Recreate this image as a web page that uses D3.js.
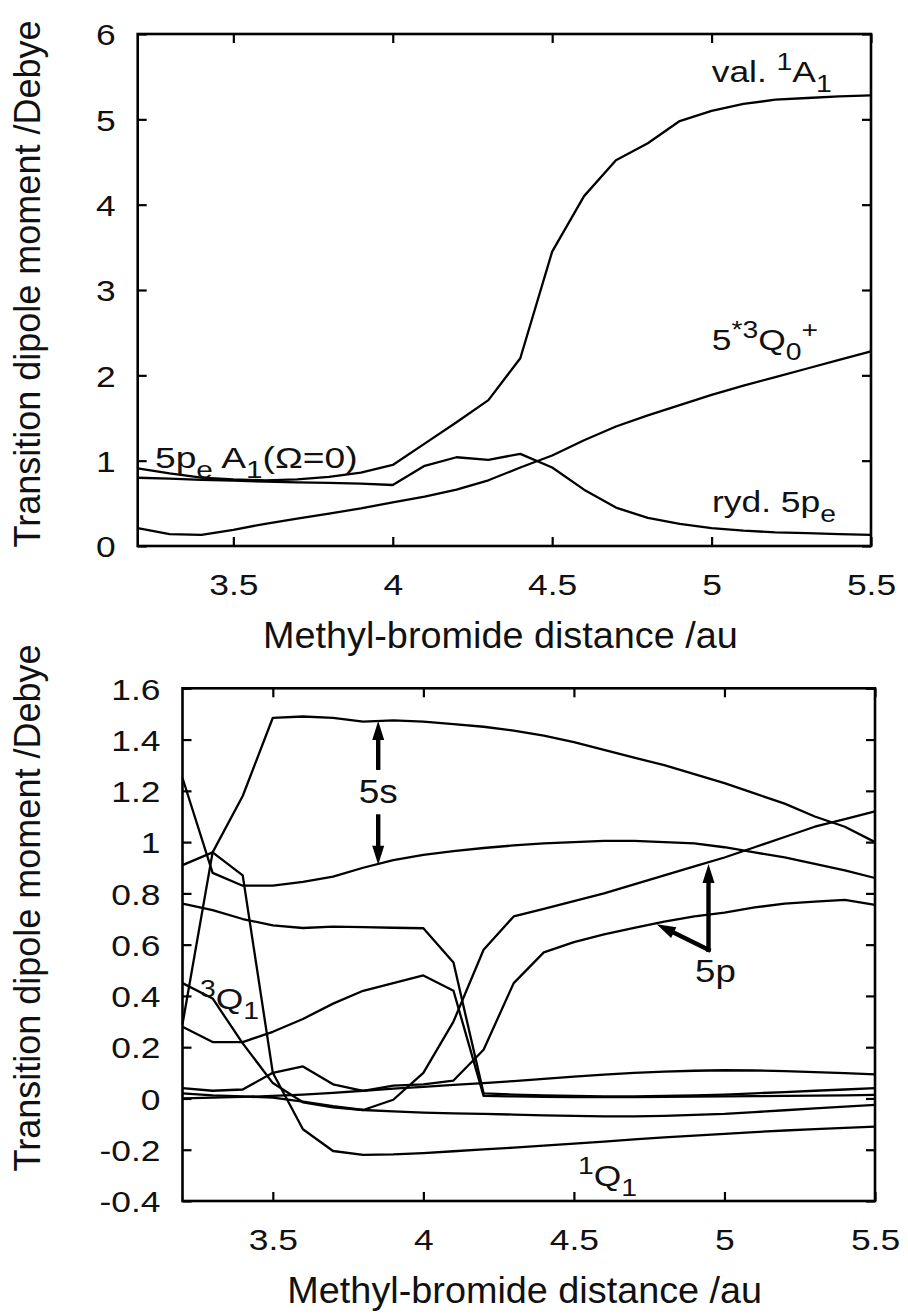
<!DOCTYPE html>
<html>
<head>
<meta charset="utf-8">
<script src="https://cdn.jsdelivr.net/npm/d3@7"></script>
<style>
  body { margin: 0; background: #fff; }
  svg text { font-family: "Liberation Sans", Arial, Helvetica, sans-serif; fill: #111; }
</style>
</head>
<body>
<svg id="fig" width="908" height="1316"></svg>
<script>
// Methyl-bromide distance grid (au)
const distance = [3.2,3.3,3.4,3.5,3.6,3.7,3.8,3.9,4.0,4.1,4.2,4.3,4.4,4.5,4.6,4.7,4.8,4.9,5.0,5.1,5.2,5.3,5.4,5.5];

// Upper panel: transition dipole moments (Debye)
const valA1  = [0.91,0.85,0.80,0.78,0.77,0.78,0.81,0.86,0.95,1.20,1.45,1.71,2.20,3.45,4.10,4.52,4.72,4.98,5.10,5.18,5.23,5.25,5.27,5.28];
const rydPe  = [0.80,0.79,0.775,0.765,0.755,0.745,0.74,0.73,0.715,0.94,1.04,1.01,1.08,0.92,0.66,0.45,0.33,0.26,0.21,0.18,0.16,0.15,0.14,0.13];
const q0Plus = [0.21,0.14,0.13,0.19,0.26,0.32,0.38,0.44,0.51,0.58,0.66,0.77,0.92,1.06,1.24,1.40,1.53,1.65,1.77,1.88,1.98,2.08,2.18,2.28];

// Lower panel: transition dipole moments (Debye)
const s5High   = [0.29,0.96,1.18,1.485,1.49,1.485,1.47,1.475,1.47,1.46,1.45,1.435,1.415,1.39,1.36,1.33,1.30,1.265,1.23,1.19,1.15,1.10,1.06,1.00];
const s5Low    = [1.25,0.88,0.83,0.83,0.845,0.865,0.90,0.93,0.95,0.965,0.977,0.987,0.995,1.0,1.005,1.005,1.0,0.995,0.98,0.96,0.94,0.915,0.89,0.86];
const q1Single = [0.91,0.96,0.87,0.10,-0.12,-0.205,-0.22,-0.218,-0.213,-0.206,-0.199,-0.192,-0.184,-0.176,-0.168,-0.16,-0.152,-0.145,-0.138,-0.131,-0.125,-0.12,-0.115,-0.11];
const plateau  = [0.76,0.735,0.70,0.675,0.665,0.67,0.668,0.666,0.664,0.53,0.02,0.015,0.012,0.01,0.008,0.008,0.01,0.012,0.015,0.02,0.025,0.03,0.035,0.04];
const hump     = [0.28,0.22,0.22,0.26,0.31,0.37,0.42,0.45,0.48,0.42,0.01,0.008,0.006,0.005,0.005,0.005,0.006,0.007,0.008,0.009,0.01,0.011,0.012,0.014];
const q1Triplet= [0.45,0.39,0.215,0.06,-0.015,-0.035,-0.045,-0.005,0.10,0.30,0.58,0.71,0.74,0.77,0.80,0.835,0.87,0.905,0.94,0.98,1.02,1.06,1.09,1.12];
const p5Low    = [0.04,0.03,0.035,0.10,0.125,0.055,0.03,0.05,0.055,0.07,0.19,0.45,0.57,0.61,0.64,0.665,0.69,0.71,0.725,0.745,0.76,0.768,0.775,0.755];
const nearZeroA= [0.02,0.012,0.008,0.003,-0.012,-0.03,-0.045,-0.05,-0.055,-0.058,-0.06,-0.063,-0.066,-0.068,-0.07,-0.07,-0.068,-0.064,-0.06,-0.053,-0.046,-0.039,-0.032,-0.025];
const nearZeroB= [0.0,0.003,0.006,0.01,0.015,0.022,0.03,0.038,0.045,0.053,0.06,0.068,0.076,0.085,0.093,0.10,0.105,0.108,0.11,0.109,0.107,0.103,0.099,0.094];

// Tick values
const xTicks = [3.5, 4, 4.5, 5, 5.5];
const yTicksTop = [0, 1, 2, 3, 4, 5, 6];
const yTicksBottom = [-0.4, -0.2, 0, 0.2, 0.4, 0.6, 0.8, 1, 1.2, 1.4, 1.6];

const xTitle = "Methyl-bromide distance /au";
const yTitle = "Transition dipole moment /Debye";

// ---------------------------------------------------------------
const svg = d3.select("#fig");
const FS = 30;        // label font size
const TITLE_FS = 36;  // axis-title font size
const SX = 1.18;      // horizontal glyph stretch
const TICK = 9;

function rich(parent, x, y, parts, opts = {}) {
  const fs = opts.fs || FS;
  const t = parent.append("text")
    .attr("transform", `translate(${x},${y}) rotate(${opts.rotate || 0}) scale(${opts.sx || SX},1)`)
    .attr("text-anchor", opts.anchor || "start")
    .style("font-size", fs + "px");
  let shift = 0;
  parts.forEach(p => {
    const target = p.sup ? -0.4 * fs : p.sub ? 0.33 * fs : 0;
    t.append("tspan")
      .attr("dy", target - shift)
      .style("font-size", (p.sup || p.sub ? 0.8 * fs : fs) + "px")
      .text(p.t);
    shift = target;
  });
  return t;
}

function panel(cfg) {
  const x = d3.scaleLinear().domain([3.2, 5.5]).range([cfg.left, cfg.right]);
  const y = d3.scaleLinear().domain(cfg.ydom).range([cfg.bottom, cfg.top]);
  const g = svg.append("g");
  const fmt = d => String(+d.toFixed(1));

  // ticks (inward on all four sides) with labels on left/bottom
  const axB = g.append("g").attr("transform", `translate(0,${cfg.bottom})`)
    .call(d3.axisBottom(x).tickValues(xTicks).tickSize(-TICK).tickPadding(0).tickFormat(fmt));
  const axT = g.append("g").attr("transform", `translate(0,${cfg.top})`)
    .call(d3.axisTop(x).tickValues(xTicks).tickSize(-TICK).tickFormat(""));
  const axL = g.append("g").attr("transform", `translate(${cfg.left},0)`)
    .call(d3.axisLeft(y).tickValues(cfg.yticks).tickSize(-TICK).tickPadding(0).tickFormat(fmt));
  const axR = g.append("g").attr("transform", `translate(${cfg.right},0)`)
    .call(d3.axisRight(y).tickValues(cfg.yticks).tickSize(-TICK).tickFormat(""));
  [axB, axT, axL, axR].forEach(a => {
    a.select(".domain").remove();
    a.selectAll(".tick line").attr("stroke", "#000").attr("stroke-width", 2.2);
  });
  axB.selectAll(".tick text")
    .attr("y", null).attr("dy", null)
    .attr("transform", `translate(0,49) scale(${SX},1)`)
    .attr("fill", "#111").style("font-size", FS + "px")
    .style("font-family", '"Liberation Sans", Arial, sans-serif');
  axL.selectAll(".tick text")
    .attr("x", null).attr("dy", "0.36em")
    .attr("transform", `translate(-22,0) scale(${SX},1)`)
    .attr("fill", "#111").style("font-size", FS + "px")
    .style("font-family", '"Liberation Sans", Arial, sans-serif');
  [axB, axL].forEach(a => a.attr("font-size", null).attr("font-family", null));

  // frame
  g.append("rect")
    .attr("x", cfg.left).attr("y", cfg.top)
    .attr("width", cfg.right - cfg.left).attr("height", cfg.bottom - cfg.top)
    .attr("fill", "none").attr("stroke", "#000").attr("stroke-width", 2.6);

  // curves
  const line = d3.line().x((d, i) => x(distance[i])).y(d => y(d));
  cfg.series.forEach(s => {
    g.append("path").datum(s)
      .attr("d", line)
      .attr("fill", "none").attr("stroke", "#000")
      .attr("stroke-width", 2.3).attr("stroke-linejoin", "round");
  });

  // axis titles
  g.append("text")
    .attr("transform", `translate(${(cfg.left + cfg.right) / 2 - 4},${cfg.bottom + 102}) scale(1.05,1)`)
    .attr("text-anchor", "middle").style("font-size", TITLE_FS + "px").text(xTitle);
  g.append("text")
    .attr("transform", `translate(40,${cfg.ytitleY}) rotate(-90)`)
    .attr("text-anchor", "middle").style("font-size", TITLE_FS + "px").text(yTitle);

  return { g, x, y };
}

// ---- upper panel
const upper = panel({
  left: 137.7, right: 871, top: 34, bottom: 546,
  ydom: [0, 6], yticks: yTicksTop, ytitleY: 284,
  series: [valA1, rydPe, q0Plus]
});
rich(upper.g, 711.7, 81.7, [{t: "val. "}, {t: "1", sup: true}, {t: "A"}, {t: "1", sub: true}]);
rich(upper.g, 711.7, 350, [{t: "5"}, {t: "*3", sup: true}, {t: "Q"}, {t: "0", sub: true}, {t: "+", sup: true}]);
rich(upper.g, 712, 511.7, [{t: "ryd. 5p"}, {t: "e", sub: true}]);
rich(upper.g, 155, 468, [{t: "5p"}, {t: "e", sub: true}, {t: " A"}, {t: "1", sub: true}, {t: "(\u03A9=0)"}], { sx: 1.24 });

// ---- lower panel
const lower = panel({
  left: 182.5, right: 875, top: 688.3, bottom: 1201,
  ydom: [-0.4, 1.6], yticks: yTicksBottom, ytitleY: 908,
  series: [s5High, s5Low, q1Single, plateau, hump, q1Triplet, p5Low, nearZeroA, nearZeroB]
});
rich(lower.g, 200, 1009, [{t: "3", sup: true}, {t: "Q"}, {t: "1", sub: true}]);
rich(lower.g, 578, 1186, [{t: "1", sup: true}, {t: "Q"}, {t: "1", sub: true}]);

// annotation arrows (data coordinates)
const arrows = [
  { from: [3.85, 1.29], to: [3.85, 1.472] },
  { from: [3.85, 1.10], to: [3.85, 0.912] },
  { from: [4.947, 0.58], to: [4.947, 0.915] },
  { from: [4.947, 0.58], to: [4.775, 0.68] }
];
arrows.forEach(a => {
  const x0 = lower.x(a.from[0]), y0 = lower.y(a.from[1]);
  const x1 = lower.x(a.to[0]), y1 = lower.y(a.to[1]);
  const len = Math.hypot(x1 - x0, y1 - y0);
  const ux = (x1 - x0) / len, uy = (y1 - y0) / len;
  const hl = 19, hw = 6;
  const bx = x1 - ux * hl, by = y1 - uy * hl;
  lower.g.append("line")
    .attr("x1", x0).attr("y1", y0).attr("x2", bx + ux * 2).attr("y2", by + uy * 2)
    .attr("stroke", "#000").attr("stroke-width", 4.4).attr("stroke-linecap", "square");
  lower.g.append("path")
    .attr("d", `M${x1},${y1}L${bx - uy * hw},${by + ux * hw}L${bx + uy * hw},${by - ux * hw}Z`)
    .attr("fill", "#000");
});
rich(lower.g, lower.x(3.85), 803, [{t: "5s"}], { anchor: "middle", fs: 33, sx: 1.12 });
rich(lower.g, lower.x(4.97), 982, [{t: "5p"}], { anchor: "middle", fs: 31 });
</script>
</body>
</html>
